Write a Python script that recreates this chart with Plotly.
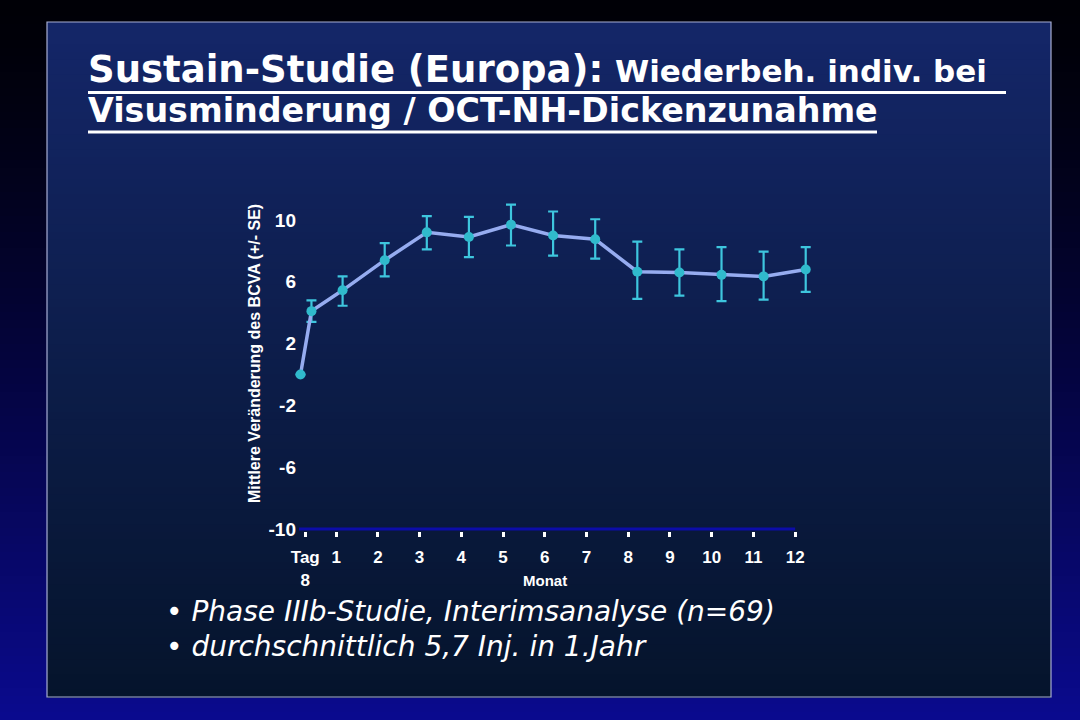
import plotly.graph_objects as go

W, H = 1080, 720

# ---------------- data ----------------
MONTHS = [0, 0.26, 1, 2, 3, 4, 5, 6, 7, 8, 9, 10, 11, 12]          # baseline, day 8, months 1-12
MEAN_CHANGE = [0.0, 4.1, 5.45, 7.4, 9.2, 8.9, 9.7, 9.0, 8.75, 6.65, 6.6, 6.45, 6.35, 6.8]
SE_UPPER = [0.0, 4.8, 6.35, 8.5, 10.25, 10.2, 11.0, 10.55, 10.05, 8.6, 8.1, 8.25, 7.95, 8.25]
SE_LOWER = [0.0, 3.4, 4.45, 6.35, 8.1, 7.6, 8.35, 7.7, 7.5, 4.9, 5.1, 4.75, 4.85, 5.35]

X_TICK_POS = [0.26, 1, 2, 3, 4, 5, 6, 7, 8, 9, 10, 11, 12]
X_TICK_TEXT = ["Tag<br>8", "1", "2", "3", "4", "5", "6", "7", "8", "9", "10", "11", "12"]
Y_TICKS = [-10, -6, -2, 2, 6, 10]
Y_TICK_TEXT = ["-10", "-6", "-2", "2", "6", "10"]

TITLE_MAIN = "Sustain-Studie (Europa):"
TITLE_SUB = "Wiederbeh. indiv. bei"
TITLE_LINE2 = "Visusminderung / OCT-NH-Dickenzunahme"
Y_TITLE = "Mittlere Veränderung des BCVA (+/- SE)"
X_TITLE = "Monat"
BULLETS = ["Phase IIIb-Studie, Interimsanalyse (n=69)",
           "durchschnittlich 5,7 Inj. in 1.Jahr"]

# ---------------- styling ----------------
SLIDE_FONT = "DejaVu Sans, Verdana, sans-serif"
CHART_FONT = "Liberation Sans, Arial, Helvetica, sans-serif"
LINE_COLOR = "rgb(150,172,240)"
MARKER_COLOR = "rgb(48,186,204)"
ERR_COLOR = "rgb(62,198,222)"


def px_x(x):
    return x / W


def px_y(y):
    return 1 - y / H


def lerp(c0, c1, t):
    return "rgb(%d,%d,%d)" % tuple(round(a + (b - a) * t) for a, b in zip(c0, c1))


shapes = []
# outer slide background gradient (black at top -> blue at bottom)
N = 90
for i in range(N):
    t = i / (N - 1)
    shapes.append(dict(type="rect", xref="paper", yref="paper", layer="below",
                       x0=0, x1=1, y0=1 - (i + 1) / N - 0.001, y1=1 - i / N,
                       line=dict(width=0), fillcolor=lerp((0, 0, 6), (10, 10, 142), t ** 1.3)))
# inner panel gradient
PX0, PX1, PY0, PY1 = 47, 1051, 22, 697
N2 = 90
for i in range(N2):
    t = i / (N2 - 1)
    ya = PY0 + (PY1 - PY0) * i / N2
    yb = PY0 + (PY1 - PY0) * (i + 1) / N2
    shapes.append(dict(type="rect", xref="paper", yref="paper", layer="below",
                       x0=px_x(PX0), x1=px_x(PX1), y0=px_y(yb) - 0.001, y1=px_y(ya),
                       line=dict(width=0), fillcolor=lerp((20, 38, 104), (5, 20, 44), t)))
# panel border
shapes.append(dict(type="rect", xref="paper", yref="paper", layer="below",
                   x0=px_x(PX0), x1=px_x(PX1), y0=px_y(PY1), y1=px_y(PY0),
                   line=dict(color="rgb(168,174,212)", width=1.2), fillcolor="rgba(0,0,0,0)"))
# title underlines
shapes.append(dict(type="line", xref="paper", yref="paper", x0=px_x(88), x1=px_x(1006),
                   y0=px_y(92.5), y1=px_y(92.5), line=dict(color="white", width=3)))
shapes.append(dict(type="line", xref="paper", yref="paper", x0=px_x(88), x1=px_x(877),
                   y0=px_y(132), y1=px_y(132), line=dict(color="white", width=3)))
# navy baseline of the chart at the lowest y tick
shapes.append(dict(type="line", xref="x2", yref="y", x0=X_TICK_POS[0] - 0.15, x1=X_TICK_POS[-1],
                   y0=Y_TICKS[0], y1=Y_TICKS[0], line=dict(color="rgb(12,12,168)", width=3)))

err_plus = [u - m for u, m in zip(SE_UPPER, MEAN_CHANGE)]
err_minus = [m - l for l, m in zip(SE_LOWER, MEAN_CHANGE)]

fig = go.Figure()
fig.add_trace(go.Scatter(
    x=MONTHS, y=MEAN_CHANGE, xaxis="x", yaxis="y",
    mode="lines+markers",
    line=dict(color=LINE_COLOR, width=3.5),
    marker=dict(color=MARKER_COLOR, size=10, line=dict(width=0)),
    error_y=dict(type="data", symmetric=False, array=err_plus, arrayminus=err_minus,
                 color=ERR_COLOR, thickness=2.2, width=5),
    hoverinfo="skip",
))

annotations = [
    dict(text="<b>%s</b> <b><span style='font-size:31px'>%s</span></b>" % (TITLE_MAIN, TITLE_SUB),
         xref="paper", yref="paper", x=px_x(86), y=px_y(69), xanchor="left", yanchor="middle",
         showarrow=False, font=dict(family=SLIDE_FONT, size=37, color="white")),
    dict(text="<b>%s</b>" % TITLE_LINE2,
         xref="paper", yref="paper", x=px_x(86), y=px_y(110), xanchor="left", yanchor="middle",
         showarrow=False, font=dict(family=SLIDE_FONT, size=33.3, color="white")),
    dict(text="<b>%s</b>" % Y_TITLE, textangle=-90,
         xref="paper", yref="paper", x=px_x(254), y=px_y(354), xanchor="center", yanchor="middle",
         showarrow=False, font=dict(family=CHART_FONT, size=16, color="white")),
    dict(text="<b>%s</b>" % X_TITLE,
         xref="paper", yref="paper", x=px_x(545), y=px_y(580), xanchor="center", yanchor="middle",
         showarrow=False, font=dict(family=CHART_FONT, size=15, color="white")),
]
for i, b in enumerate(BULLETS):
    annotations.append(dict(text="• <i>%s</i>" % b,
                            xref="paper", yref="paper", x=px_x(164), y=px_y(611 + 35 * i),
                            xanchor="left", yanchor="middle", showarrow=False,
                            font=dict(family=SLIDE_FONT, size=28, color="white")))

fig.update_layout(
    width=W, height=H, margin=dict(l=0, r=0, t=0, b=0),
    paper_bgcolor="rgb(0,0,6)", plot_bgcolor="rgba(0,0,0,0)",
    showlegend=False,
    shapes=shapes, annotations=annotations,
    xaxis=dict(domain=[px_x(270), px_x(830)], range=[-0.7245, 12.577], visible=False,
               fixedrange=True),
    xaxis2=dict(overlaying="x", anchor="free", position=px_y(531), side="bottom",
                range=[-0.585, 12.835], tickmode="array", tickvals=X_TICK_POS, ticktext=X_TICK_TEXT,
                ticks="outside", ticklen=5, tickwidth=2.5, tickcolor="white",
                showline=False, showgrid=False, zeroline=False, ticklabelstandoff=6,
                tickfont=dict(family=CHART_FONT, size=17, color="white", weight="bold"),
                fixedrange=True),
    yaxis=dict(domain=[px_y(545), px_y(180)], range=[-11.036, 12.589], anchor="free",
               position=px_x(296), tickmode="array", tickvals=Y_TICKS, ticktext=Y_TICK_TEXT,
               ticks="", showline=False, showgrid=False, zeroline=False,
               tickfont=dict(family=CHART_FONT, size=19, color="white", weight="bold"),
               fixedrange=True),
)

fig.write_html("out.html", config={"displayModeBar": False},
               post_script="document.body.style.margin='0';document.body.style.background='rgb(0,0,6)';")
